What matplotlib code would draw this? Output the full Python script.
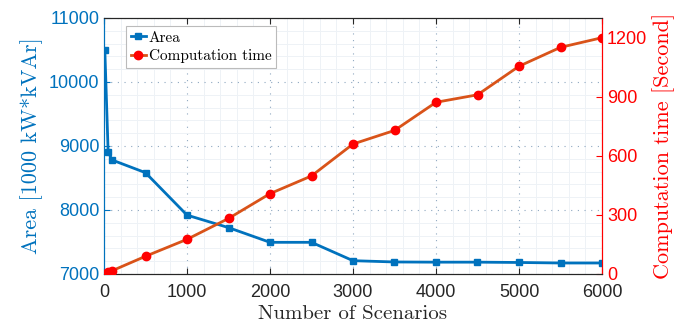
import matplotlib
matplotlib.use("Agg")
import matplotlib.pyplot as plt
from matplotlib.ticker import MultipleLocator

scenarios = [10, 50, 100, 500, 1000, 1500, 2000, 2500, 3000, 3500, 4000, 4500, 5000, 5500, 6000]
area = [10500, 8900, 8780, 8583, 7920, 7725, 7495, 7495, 7208, 7188, 7185, 7185, 7180, 7172, 7172]
comp_time = [0, 8, 17, 90, 176, 282, 408, 498, 660, 729, 872, 910, 1055, 1151, 1200]

blue = '#0072BD'
orange = '#D95319'
red = '#FF0000'
serif = 'cmr10'
sans = 'Liberation Sans'

fig = plt.figure(figsize=(6.87, 3.26), dpi=100)
ax = fig.add_axes([104/687, 1-274/326, (602-104)/687, (274-18)/326])
ax2 = ax.twinx()

l1, = ax.plot(scenarios, area, '-s', color=blue, lw=2, ms=4.8, mfc=blue, mec=blue, label='Area', zorder=3)
l2, = ax2.plot(scenarios, comp_time, '-o', color=orange, lw=2, ms=6, mfc=red, mec=red, label='Computation time', zorder=3)

ax.set_xlim(0, 6000)
ax.set_ylim(7000, 11000)
ax2.set_ylim(0, 1300)
ax.set_xticks([0, 1000, 2000, 3000, 4000, 5000, 6000])
ax.set_yticks([7000, 8000, 9000, 10000, 11000])
ax2.set_yticks([0, 300, 600, 900, 1200])
ax.xaxis.set_minor_locator(MultipleLocator(200))
ax.yaxis.set_minor_locator(MultipleLocator(200))

ax.grid(True, which='major', color='#8fa8c0', lw=0.8, ls=(0, (1, 5)))
ax.grid(True, which='minor', color='#eef2f6', lw=0.7, ls='-')
ax.set_axisbelow(True)

ax.tick_params(axis='x', labelsize=13, colors='#262626', direction='in', length=4, top=True, pad=7)
ax.tick_params(axis='y', labelsize=13, colors=blue, direction='in', length=4)
ax.tick_params(which='minor', length=0)
ax2.tick_params(axis='y', labelsize=13, colors=red, direction='in', length=4)
for lab in ax.get_xticklabels() + ax.get_yticklabels() + ax2.get_yticklabels():
    lab.set_fontfamily(sans)

ax.spines['left'].set_color(blue)
ax2.spines['left'].set_color(blue)
ax2.spines['right'].set_color(red)
ax.spines['right'].set_color(red)
for a in (ax, ax2):
    a.spines['top'].set_color('#262626')
    a.spines['bottom'].set_color('#262626')

ax.set_xlabel('Number of Scenarios', fontfamily=serif, fontsize=15, color='#262626', labelpad=3)
ax.set_ylabel('Area [1000 kW*kVAr]', fontfamily=serif, fontsize=16, color=blue, labelpad=4)
ax2.set_ylabel('Computation time [Second]', fontfamily=serif, fontsize=16, color=red, labelpad=4)

leg = ax.legend([l1, l2], ['Area', 'Computation time'], loc='upper left',
                bbox_to_anchor=(0.035, 0.985), prop={'family': serif, 'size': 11},
                fancybox=False, edgecolor='#bbbbbb', framealpha=1,
                handlelength=1.0, handletextpad=0.2, borderpad=0.3, labelspacing=0.3,
                borderaxespad=0.3)
leg.get_frame().set_linewidth(0.8)

fig.savefig('out.png', dpi=100)
